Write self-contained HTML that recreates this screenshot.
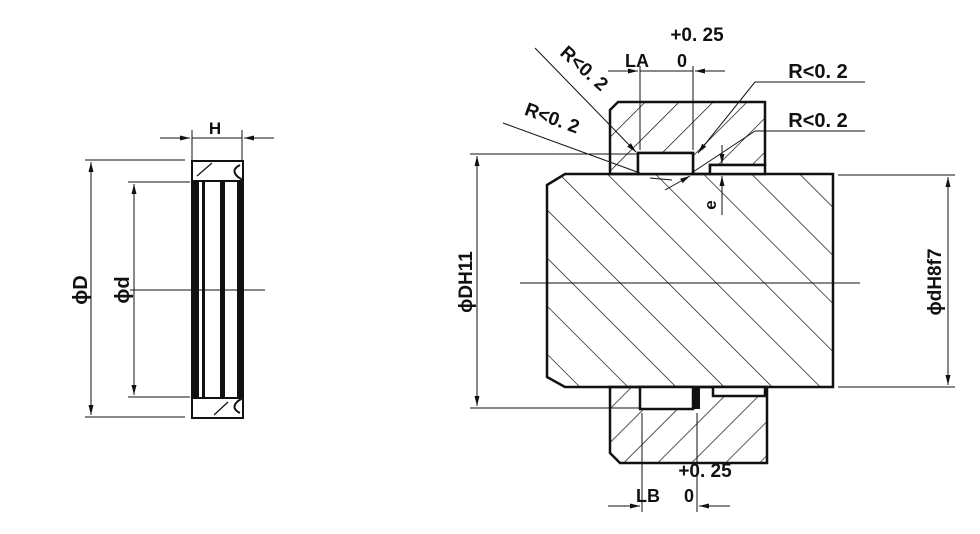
<!DOCTYPE html>
<html><head><meta charset="utf-8"><style>
html,body{margin:0;padding:0;background:#fff;}
svg{display:block;}
text{font-family:"Liberation Sans Narrow","Liberation Sans",sans-serif;font-weight:bold;fill:#111;}
</style></head><body>
<svg width="980" height="534" viewBox="0 0 980 534" xmlns="http://www.w3.org/2000/svg">
<defs>
<pattern id="hs" patternUnits="userSpaceOnUse" width="34" height="34" patternTransform="rotate(-45)">
<line x1="0" y1="0" x2="0" y2="34" stroke="#111" stroke-width="1.4"/></pattern>
<pattern id="hh" patternUnits="userSpaceOnUse" width="24" height="24" patternTransform="rotate(45)">
<line x1="0" y1="0" x2="0" y2="24" stroke="#111" stroke-width="1.4"/></pattern>
<marker id="ar" viewBox="0 0 10 6" refX="10" refY="3" markerWidth="10" markerHeight="6" orient="auto-start-reverse" markerUnits="userSpaceOnUse">
<path d="M0,0.5 L10,3 L0,5.5 z" fill="#111"/></marker>
</defs>

<!-- LEFT SEAL -->
<g stroke="#111" fill="none">
<line x1="85" y1="160" x2="185" y2="160" stroke-width="1"/>
<line x1="85" y1="417" x2="185" y2="417" stroke-width="1"/>
<line x1="128" y1="182" x2="190" y2="182" stroke-width="1"/>
<line x1="128" y1="397" x2="190" y2="397" stroke-width="1"/>
<line x1="91" y1="162" x2="91" y2="415" stroke-width="1" marker-start="url(#ar)" marker-end="url(#ar)"/>
<line x1="134" y1="184" x2="134" y2="395" stroke-width="1" marker-start="url(#ar)" marker-end="url(#ar)"/>
<line x1="130" y1="290" x2="265" y2="290" stroke-width="1"/>
<line x1="192" y1="130" x2="192" y2="160" stroke-width="1"/>
<line x1="242" y1="130" x2="242" y2="160" stroke-width="1"/>
<line x1="160" y1="138" x2="190" y2="138" stroke-width="1" marker-end="url(#ar)"/>
<line x1="274" y1="138" x2="244" y2="138" stroke-width="1" marker-end="url(#ar)"/>
<line x1="192" y1="138" x2="242" y2="138" stroke-width="1"/>
<rect x="192" y="161" width="51" height="257" stroke-width="2"/>
<line x1="192" y1="181" x2="243" y2="181" stroke-width="2"/>
<line x1="192" y1="398" x2="243" y2="398" stroke-width="2"/>
<line x1="197" y1="176" x2="212" y2="163" stroke-width="1.2"/>
<line x1="214" y1="415" x2="228" y2="402" stroke-width="1.2"/>
<path d="M240,165 q-10,5 -2,12 q5,3 5,4" stroke-width="2"/>
<path d="M240,413 q-10,-5 -2,-12 q5,-3 5,-4" stroke-width="2"/>
</g>
<g fill="#111">
<rect x="192" y="181" width="7" height="217"/>
<rect x="202" y="181" width="3" height="217"/>
<rect x="220" y="181" width="5" height="217"/>
<rect x="237" y="181" width="7" height="217"/>
</g>
<text x="215" y="134" font-size="17" text-anchor="middle">H</text>
<text transform="translate(87,290) rotate(-90)" font-size="20" text-anchor="middle">ϕD</text>
<text transform="translate(129,290) rotate(-90)" font-size="20" text-anchor="middle">ϕd</text>

<!-- RIGHT ASSEMBLY -->
<path d="M565,174 L833,174 L833,387 L565,387 L547,377 L547,185 Z" fill="url(#hs)" stroke="#111" stroke-width="2.5"/>
<path d="M618,102 L765,102 L765,165 L710,165 L710,174 L693,174 L693,153 L638,153 L638,174 L610,174 L610,110 Z" fill="url(#hh)" stroke="#111" stroke-width="2.5"/>
<rect x="638" y="153" width="55" height="21" fill="#fff" stroke="#111" stroke-width="2.5"/>
<rect x="710" y="165" width="55" height="9" fill="#fff" stroke="#111" stroke-width="2.5"/>
<path d="M610,387 L767,387 L767,463 L620,463 L610,453 Z" fill="url(#hh)" stroke="#111" stroke-width="2.5"/>
<rect x="640" y="387" width="53" height="22" fill="#fff" stroke="#111" stroke-width="2.5"/>
<rect x="713" y="387" width="52" height="9" fill="#fff" stroke="#111" stroke-width="2.5"/>
<rect x="693" y="387" width="7" height="22" fill="#111"/>

<g stroke="#111" fill="none" stroke-width="1">
<line x1="520" y1="283" x2="860" y2="283"/>
<line x1="470" y1="154" x2="638" y2="154"/>
<line x1="470" y1="408" x2="640" y2="408"/>
<line x1="477" y1="156" x2="477" y2="406" marker-start="url(#ar)" marker-end="url(#ar)"/>
<line x1="838" y1="175" x2="955" y2="175"/>
<line x1="838" y1="387" x2="955" y2="387"/>
<line x1="948" y1="177" x2="948" y2="385" marker-start="url(#ar)" marker-end="url(#ar)"/>
<line x1="640" y1="66" x2="640" y2="150"/>
<line x1="693" y1="66" x2="693" y2="150"/>
<line x1="608" y1="71" x2="638" y2="71" marker-end="url(#ar)"/>
<line x1="725" y1="71" x2="695" y2="71" marker-end="url(#ar)"/>
<line x1="640" y1="71" x2="693" y2="71"/>
<line x1="642" y1="413" x2="642" y2="512"/>
<line x1="697" y1="413" x2="697" y2="512"/>
<line x1="608" y1="506" x2="640" y2="506" marker-end="url(#ar)"/>
<line x1="730" y1="506" x2="699" y2="506" marker-end="url(#ar)"/>
<line x1="755" y1="82" x2="865" y2="82"/>
<line x1="755" y1="82" x2="698" y2="153" marker-end="url(#ar)"/>
<line x1="755" y1="131" x2="865" y2="131"/>
<line x1="755" y1="131" x2="690" y2="174"/>
<line x1="535" y1="48" x2="636" y2="152" marker-end="url(#ar)"/>
<line x1="503" y1="123" x2="640" y2="173"/>
<line x1="665" y1="190" x2="690" y2="176" marker-end="url(#ar)"/>
<line x1="650" y1="178" x2="672" y2="180"/>
<line x1="722" y1="145" x2="722" y2="164" marker-end="url(#ar)"/>
<line x1="722" y1="215" x2="722" y2="176" marker-end="url(#ar)"/>
</g>

<text x="697" y="41" font-size="19" text-anchor="middle">+0. 25</text>
<text x="637" y="67" font-size="18" text-anchor="middle">LA</text>
<text x="682" y="67" font-size="18" text-anchor="middle">0</text>
<text x="818" y="78" font-size="20" text-anchor="middle">R&lt;0. 2</text>
<text x="818" y="127" font-size="20" text-anchor="middle">R&lt;0. 2</text>
<text transform="translate(580,73) rotate(42)" font-size="19" text-anchor="middle">R&lt;0. 2</text>
<text transform="translate(550,124) rotate(20)" font-size="19" text-anchor="middle">R&lt;0. 2</text>
<text transform="translate(716,205) rotate(-90)" font-size="17" text-anchor="middle">e</text>
<text x="705" y="477" font-size="19" text-anchor="middle">+0. 25</text>
<text x="648" y="502" font-size="18" text-anchor="middle">LB</text>
<text x="689" y="502" font-size="18" text-anchor="middle">0</text>
<text transform="translate(472,282) rotate(-90)" font-size="19" text-anchor="middle">ϕDH11</text>
<text transform="translate(941,282) rotate(-90)" font-size="19" text-anchor="middle">ϕdH8f7</text>
</svg>
</body></html>
